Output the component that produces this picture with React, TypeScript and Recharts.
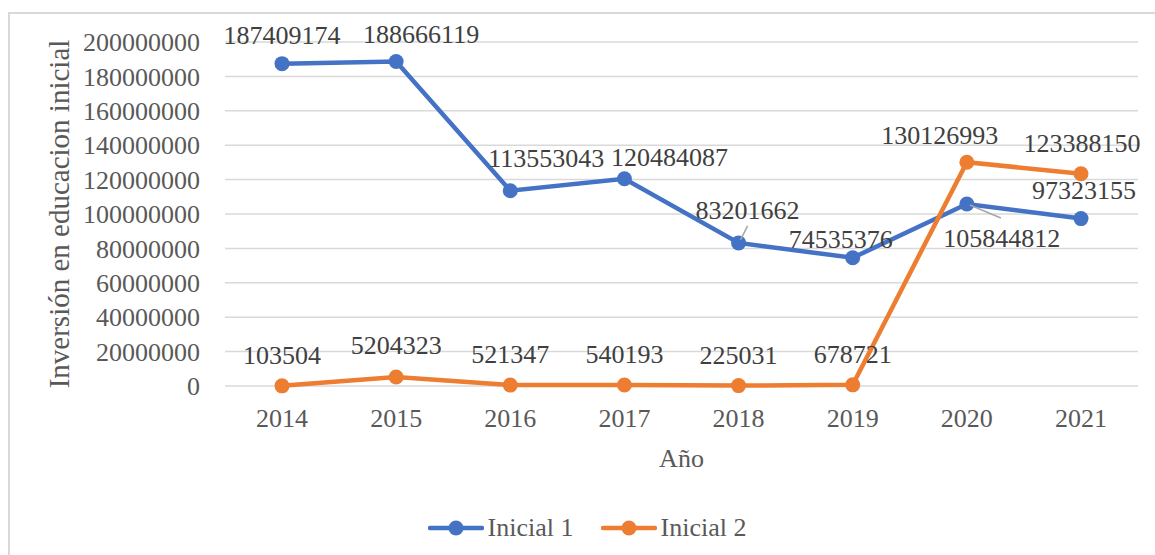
import React from 'react'
import { LineChart, Line, XAxis, YAxis, CartesianGrid, Legend, LabelList } from 'recharts'

const years = ['2014', '2015', '2016', '2017', '2018', '2019', '2020', '2021']
const inicial1 = [187409174, 188666119, 113553043, 120484087, 83201662, 74535376, 105844812, 97323155]
const inicial2 = [103504, 5204323, 521347, 540193, 225031, 678721, 130126993, 123388150]
const yTicks = [0, 20000000, 40000000, 60000000, 80000000, 100000000, 120000000, 140000000, 160000000, 180000000, 200000000]

const data = years.map((year, i) => ({ year, inicial1: inicial1[i], inicial2: inicial2[i] }))

const FONT = 'Liberation Serif, DejaVu Serif, Times New Roman, serif'
const BLUE = '#4472C4'
const ORANGE = '#ED7D31'
const GRID = '#d9d9d9'
const TEXT = '#595959'

// where each data label sits relative to its point (Excel moved some of them by hand)
const nudge1 = [[0, -29], [25, -28], [36, -33], [45, -22], [9, -33], [-12, -19], [35, 34], [3, -29]]
const nudge2 = [[0, -31], [0, -32], [0, -31], [0, -31], [0, -31], [0, -31], [-27, -27], [1, -31]]
// leader lines for the labels that were dragged away: index -> [x1, y1, x2, y2] relative to point
const leaders1: Record<number, number[]> = { 4: [2, -3, 9, -17], 6: [3, 1, 34, 14] }

function makeLabel(nudges: number[][], leaders: Record<number, number[]> = {}) {
  return (props: any) => {
    const { x, y, value, index } = props
    const [dx, dy] = nudges[index] || [0, -30]
    const ld = leaders[index]
    return (
      <g>
        {ld && (
          <line x1={x + ld[0]} y1={y + ld[1]} x2={x + ld[2]} y2={y + ld[3]} stroke="#a6a6a6" strokeWidth={1.5} />
        )}
        <text
          x={x + dx}
          y={y + dy}
          dy="0.35em"
          textAnchor="middle"
          style={{ fontFamily: FONT, fontSize: 26 }}
          fill="#404040"
        >
          {value}
        </text>
      </g>
    )
  }
}

const legendItems = [
  { name: 'Inicial 1', color: BLUE },
  { name: 'Inicial 2', color: ORANGE },
]

function LegendContent() {
  return (
    <div
      style={{
        display: 'flex',
        justifyContent: 'center',
        alignItems: 'center',
        height: 36,
        paddingLeft: 19,
        fontFamily: FONT,
        fontSize: 26,
        color: TEXT,
      }}
    >
      {legendItems.map((it, i) => (
        <div key={it.name} style={{ display: 'flex', alignItems: 'center', marginLeft: i ? 27 : 0 }}>
          <svg width={56} height={20} style={{ marginRight: 4 }}>
            <line x1={2} y1={10} x2={54} y2={10} stroke={it.color} strokeWidth={4.5} strokeLinecap="round" />
            <circle cx={28} cy={10} r={7.5} fill={it.color} />
          </svg>
          <span>{it.name}</span>
        </div>
      ))}
    </div>
  )
}

const tickStyle = { fontFamily: FONT, fontSize: 26, fill: TEXT }

export default function App() {
  return (
    <div style={{ position: 'absolute', left: 0, top: 0, width: 1155, height: 555, overflow: 'hidden', background: '#fff', fontFamily: FONT }}>
      <div
        style={{
          position: 'absolute',
          left: 8,
          top: 12,
          width: 1200,
          height: 600,
          borderLeft: `2px solid ${GRID}`,
          borderTop: `2px solid ${GRID}`,
        }}
      />
      <div style={{ position: 'absolute', left: 0, top: 0 }}>
        <LineChart width={1155} height={555} data={data} margin={{ top: 42, right: 17, left: 0, bottom: 9 }} style={{ fontFamily: FONT }}>
          <CartesianGrid vertical={false} stroke={GRID} strokeWidth={1.5} />
          <XAxis
            dataKey="year"
            axisLine={false}
            tickLine={false}
            height={124}
            tickMargin={17}
            interval={0}
            padding={{ left: 57, right: 57 }}
            tick={tickStyle}
            label={{ value: 'Año', position: 'insideBottom', offset: 43, style: tickStyle }}
          />
          <YAxis
            width={225}
            domain={[0, 200000000]}
            ticks={yTicks}
            interval={0}
            axisLine={false}
            tickLine={false}
            tickMargin={19}
            tickFormatter={(v: number) => String(v)}
            tick={tickStyle}
            label={{
              value: 'Inversión en educacion inicial',
              angle: -90,
              position: 'insideLeft',
              offset: 59,
              style: { ...tickStyle, fontSize: 29, textAnchor: 'middle' },
            }}
          />
          <Legend verticalAlign="bottom" content={<LegendContent />} wrapperStyle={{ left: 0, width: 1155 }} />
          <Line
            dataKey="inicial1"
            name="Inicial 1"
            stroke={BLUE}
            strokeWidth={4.5}
            dot={{ r: 7.5, fill: BLUE, stroke: BLUE, strokeWidth: 0 }}
            activeDot={false}
            isAnimationActive={false}
          >
            <LabelList dataKey="inicial1" content={makeLabel(nudge1, leaders1)} />
          </Line>
          <Line
            dataKey="inicial2"
            name="Inicial 2"
            stroke={ORANGE}
            strokeWidth={4.5}
            dot={{ r: 7.5, fill: ORANGE, stroke: ORANGE, strokeWidth: 0 }}
            activeDot={false}
            isAnimationActive={false}
          >
            <LabelList dataKey="inicial2" content={makeLabel(nudge2)} />
          </Line>
        </LineChart>
      </div>
    </div>
  )
}
